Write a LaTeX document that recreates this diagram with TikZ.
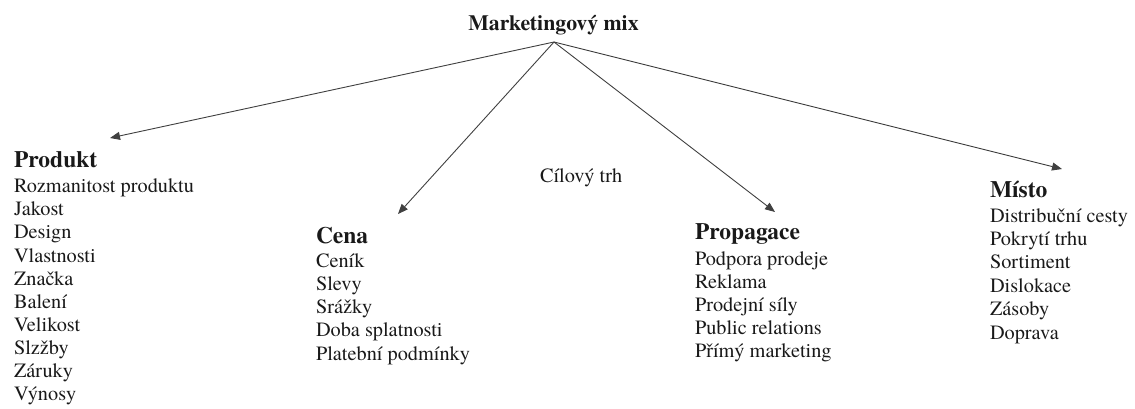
\documentclass[tikz,border=0pt]{standalone}
\usepackage{fontspec}
\setmainfont{TeX Gyre Termes}
\usetikzlibrary{arrows.meta}
\tikzset{
  every node/.style={inner sep=0pt, outer sep=0pt, text=black!90},
  title/.style={font=\bfseries\fontsize{21.8}{26}\selectfont, anchor=base},
  head/.style={font=\bfseries\fontsize{23.5}{28}\selectfont, anchor=base west},
  item/.style={font=\fontsize{20.3}{24}\selectfont, anchor=base west},
  conn/.style={draw=black!75, line width=0.9pt, -{Triangle[length=10pt,width=8pt]}}
}
\begin{document}
\begin{tikzpicture}[x=1pt,y=-1pt]
\useasboundingbox (0,0) rectangle (1135,408);
\node[title] (mix) at (553.5,30.5) {Marketingový mix};
\coordinate (apex) at (554,42);
% Produkt
\node[head] (produkt) at (14,167) {Produkt};
\foreach \t [count=\i from 0] in {Rozmanitost produktu,Jakost,Design,Vlastnosti,Značka,Balení,Velikost,Slzžby,Záruky,Výnosy}
  \node[item] (p\i) at (14,{192.7+23.1*\i}) {\t};
% Cena
\node[head] (cena) at (316,243) {Cena};
\foreach \t [count=\i from 0] in {Ceník,Slevy,Srážky,Doba splatnosti,Platební podmínky}
  \node[item] (c\i) at (316,{267+23.25*\i}) {\t};
% Propagace
\node[head] (propagace) at (695,239) {Propagace};
\foreach \t [count=\i from 0] in {Podpora prodeje,Reklama,Prodejní síly,Public relations,Přímý marketing}
  \node[item] (r\i) at (695,{265+23.1*\i}) {\t};
% Misto
\node[head] (misto) at (990,197) {Místo};
\foreach \t [count=\i from 0] in {Distribuční cesty,Pokrytí trhu,Sortiment,Dislokace,Zásoby,Doprava}
  \node[item] (m\i) at (990,{222+23.4*\i}) {\t};
% Cilovy trh
\node[item] (trh) at (540,182) {Cílový trh};
% arrow tips
\coordinate (tP) at (110,138);
\coordinate (tC) at (398,214);
\coordinate (tR) at (775,212);
\coordinate (tM) at (1062,169);
\draw[conn] (apex) -- (tP);
\draw[conn] (apex) -- (tC);
\draw[conn] (apex) -- (tR);
\draw[conn] (apex) -- (tM);
\end{tikzpicture}
\end{document}
